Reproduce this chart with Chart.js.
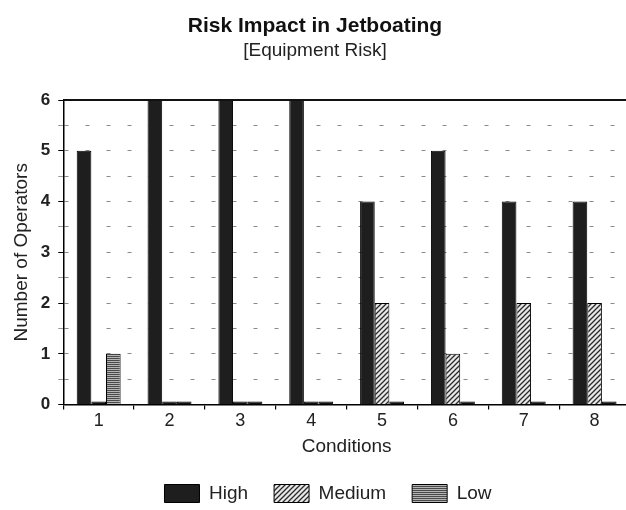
<!DOCTYPE html>
<html>
<head>
<meta charset="utf-8">
<title>Risk Impact in Jetboating</title>
<script src="https://cdn.jsdelivr.net/npm/chart.js@4.4.1/dist/chart.umd.min.js"></script>
<style>
  html, body { margin: 0; padding: 0; background: #fff; overflow: hidden; }
  #wrap { width: 634px; height: 510px; }
</style>
</head>
<body>
<div id="wrap"><canvas id="chart" width="634" height="510"></canvas></div>
<script>
// data
const conditions = ['1', '2', '3', '4', '5', '6', '7', '8'];
const highRisk = [5, 6, 6, 6, 4, 5, 4, 4];
const mediumRisk = [0, 0, 0, 0, 2, 1, 2, 2];
const lowRisk = [1, 0, 0, 0, 0, 0, 0, 0];
const yTicks = [0, 1, 2, 3, 4, 5, 6];

const FONT = '"Liberation Sans", Arial, Helvetica, sans-serif';
const INK = '#1e1e1e';

// hatch fills like the old print
function makePattern(w, h, draw) {
    const c = document.createElement('canvas');
    c.width = w;
    c.height = h;
    draw(c.getContext('2d'), w, h);
    return c.getContext('2d').createPattern(c, 'repeat');
}

const diagonalHatch = makePattern(5, 5, function(g, w, h) {
    g.fillStyle = '#e8e8e8';
    g.fillRect(0, 0, w, h);
    g.strokeStyle = '#2a2a2a';
    g.lineWidth = 1.3;
    g.beginPath();
    g.moveTo(-1, h + 1); g.lineTo(w + 1, -1);
    g.moveTo(-1, 1); g.lineTo(1, -1);
    g.moveTo(w - 1, h + 1); g.lineTo(w + 1, h - 1);
    g.stroke();
});

const stripeHatch = makePattern(4, 2, function(g, w, h) {
    g.fillStyle = '#b4b4b4';
    g.fillRect(0, 0, w, h);
    g.fillStyle = '#4a4a4a';
    g.fillRect(0, 0, w, 1);
});

const legendFills = [INK, diagonalHatch, stripeHatch];

// zero values show up as a dark stub on the baseline
function fillFor(pattern) {
    return function(ctx) {
        return (ctx.type === 'data' && ctx.raw === 0) ? '#111' : pattern;
    };
}

// solid frame line across the top of the plot
const topBorder = {
    id: 'topBorder',
    afterDatasetsDraw(chart) {
        const {ctx, chartArea, scales} = chart;
        const y = scales.y.getPixelForValue(scales.y.max);
        ctx.save();
        ctx.strokeStyle = '#111';
        ctx.lineWidth = 2;
        ctx.beginPath();
        ctx.moveTo(chartArea.left, y);
        ctx.lineTo(chartArea.right, y);
        ctx.stroke();
        ctx.restore();
    }
};

// legend sits a little right of the page centre in the original
const legendShift = {
    id: 'legendShift',
    afterLayout(chart) {
        chart.legend.left += 13;
        chart.legend.right += 13;
    }
};

const barStyle = {
    borderColor: '#000',
    borderWidth: 1,
    minBarLength: 3,
    categoryPercentage: 0.62,
    barPercentage: 1.0
};

new Chart(document.getElementById('chart'), {
    type: 'bar',
    data: {
        labels: conditions,
        datasets: [
            Object.assign({label: 'High', data: highRisk, backgroundColor: INK}, barStyle),
            Object.assign({label: 'Medium', data: mediumRisk, backgroundColor: fillFor(diagonalHatch)}, barStyle),
            Object.assign({label: 'Low', data: lowRisk, backgroundColor: fillFor(stripeHatch)}, barStyle)
        ]
    },
    options: {
        responsive: false,
        animation: false,
        layout: {
            padding: {left: 0, right: 4, top: 0, bottom: -3}
        },
        plugins: {
            title: {
                display: true,
                text: 'Risk Impact in Jetboating',
                color: '#111',
                font: {family: FONT, size: 21, weight: 'bold'},
                padding: {top: 14, bottom: 0}
            },
            subtitle: {
                display: true,
                text: '[Equipment Risk]',
                color: '#222',
                font: {family: FONT, size: 19},
                padding: {top: 0, bottom: 38}
            },
            legend: {
                display: true,
                position: 'bottom',
                labels: {
                    boxWidth: 35,
                    boxHeight: 18,
                    padding: 26,
                    color: '#222',
                    font: {family: FONT, size: 19},
                    generateLabels: function(chart) {
                        const items = Chart.defaults.plugins.legend.labels.generateLabels(chart);
                        items.forEach(function(item, i) {
                            item.fillStyle = legendFills[i];
                            item.strokeStyle = '#000';
                            item.lineWidth = 1;
                        });
                        return items;
                    }
                }
            },
            tooltip: {enabled: false}
        },
        scales: {
            x: {
                grid: {
                    offset: true,
                    drawOnChartArea: false,
                    tickLength: 5,
                    color: '#000',
                    lineWidth: 1.2
                },
                border: {display: true, color: '#000', width: 1.5},
                ticks: {
                    color: '#222',
                    padding: 1,
                    font: {family: FONT, size: 18}
                },
                title: {
                    display: true,
                    text: 'Conditions',
                    color: '#222',
                    font: {family: FONT, size: 19},
                    padding: {top: 2, bottom: 0}
                }
            },
            y: {
                min: 0,
                max: 6,
                grid: {
                    color: function(ctx) {
                        const v = ctx.tick ? ctx.tick.value : 0;
                        return (v === 0 || v === 6) ? 'rgba(0,0,0,0)' : '#8a8a8a';
                    },
                    tickColor: function(ctx) {
                        const v = ctx.tick ? ctx.tick.value : 0;
                        return Number.isInteger(v) ? '#000' : '#999';
                    },
                    tickLength: 5,
                    lineWidth: 1
                },
                border: {display: true, color: '#000', width: 1.5, dash: [4, 17]},
                ticks: {
                    stepSize: 0.5,
                    padding: 8,
                    color: '#222',
                    font: {family: FONT, size: 17, weight: 'bold'},
                    callback: function(value) {
                        return yTicks.includes(value) ? String(value) : '';
                    }
                },
                title: {
                    display: true,
                    text: 'Number of Operators',
                    color: '#222',
                    font: {family: FONT, size: 19},
                    padding: {top: 10, bottom: 0}
                }
            }
        }
    },
    plugins: [topBorder, legendShift]
});
</script>
</body>
</html>
